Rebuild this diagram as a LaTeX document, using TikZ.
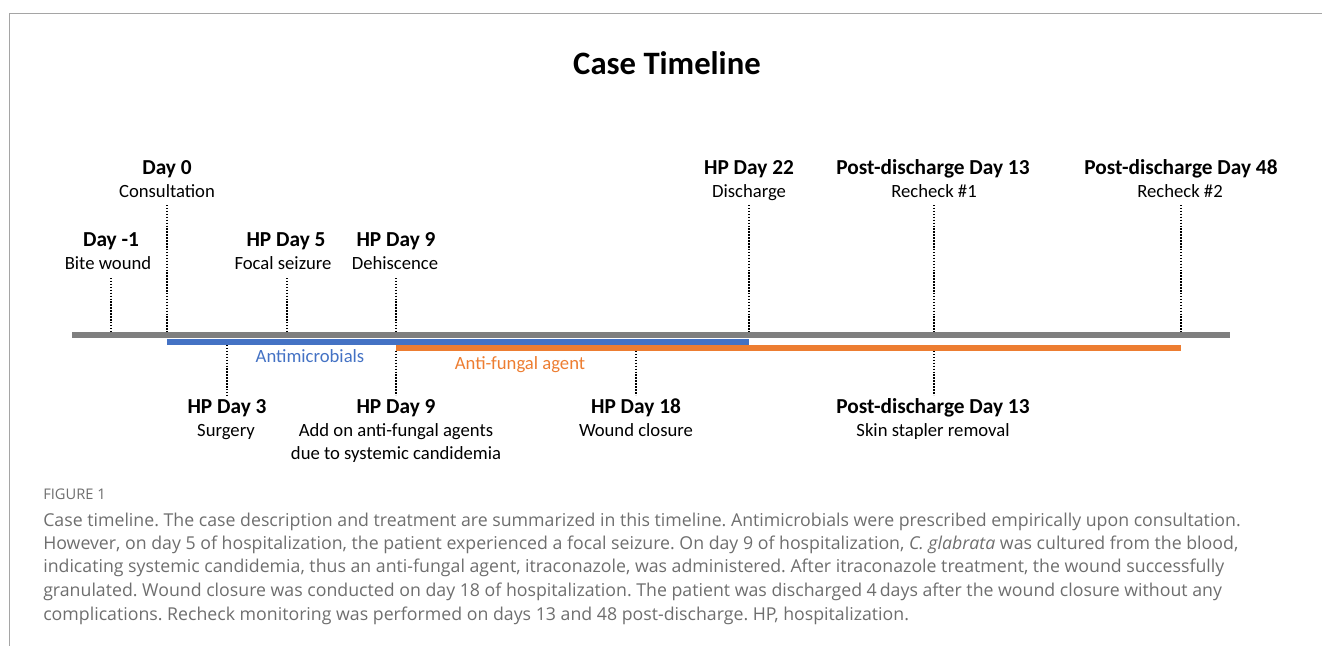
\documentclass[tikz,border=0pt]{standalone}
\usepackage{fontspec}
\setmainfont{Carlito}
\newfontfamily\capfont{Open Sans}
\definecolor{tlgray}{RGB}{127,127,127}
\definecolor{tlblue}{RGB}{68,114,196}
\definecolor{tlorange}{RGB}{237,125,49}
\definecolor{capgray}{RGB}{110,110,110}
\definecolor{framegray}{RGB}{165,165,165}
\frenchspacing
\begin{document}
\begin{tikzpicture}[x=0.75pt,y=-0.75pt,
  hd/.style={font=\fontsize{16}{18}\selectfont\bfseries, anchor=base, inner sep=0},
  sub/.style={font=\fontsize{14}{16}\selectfont, anchor=base, inner sep=0},
  tick/.style={line width=1.1pt, dash pattern=on 1.1pt off 1.1pt},
  bar/.style={line width=4.6pt},
  capline/.style={font=\capfont\fontsize{13.3}{15}\selectfont, text=capgray, anchor=base west, inner sep=0}]
\useasboundingbox (0,0) rectangle (1322,646);
% frame
\coordinate (frTR) at (1322,13.5);
\coordinate (frTL) at (9.5,13.5);
\coordinate (frBL) at (9.5,646);
\draw[framegray, line width=1.2pt] (frTR) -- (frTL) -- (frBL);
% title
\node[font=\fontsize{24.5}{28}\selectfont\bfseries, anchor=base, inner sep=0] (title) at (667,74) {Case Timeline};
% top events
\node[hd] (e0) at (167,174) {Day 0};
\node[sub] (e0s) at (167,197) {Consultation};
\coordinate (e0a) at (167,205); \coordinate (e0b) at (167,338);
\node[hd] (em1) at (111,246) {Day -1};
\node[sub] (em1s) at (108,269) {Bite wound};
\coordinate (em1a) at (111,278); \coordinate (em1b) at (111,333);
\node[hd] (e5) at (286,246) {HP Day 5};
\node[sub] (e5s) at (283,269) {Focal seizure};
\coordinate (e5a) at (287,278); \coordinate (e5b) at (287,333);
\node[hd] (e9) at (396,246) {HP Day 9};
\node[sub] (e9s) at (395,269) {Dehiscence};
\coordinate (e9a) at (396,278); \coordinate (e9b) at (396,333);
\node[hd] (e22) at (749,174) {HP Day 22};
\node[sub] (e22s) at (749,197) {Discharge};
\coordinate (e22a) at (749,205); \coordinate (e22b) at (749,333);
\node[hd] (p13) at (933,174) {Post-discharge Day 13};
\node[sub] (p13s) at (934,197) {Recheck \#1};
\coordinate (p13a) at (934,205); \coordinate (p13b) at (934,333);
\node[hd] (p48) at (1181,174) {Post-discharge Day 48};
\node[sub] (p48s) at (1180,197) {Recheck \#2};
\coordinate (p48a) at (1181,205); \coordinate (p48b) at (1181,333);
\foreach \e in {e0,em1,e5,e9,e22,p13,p48}{\draw[tick] (\e a) -- (\e b);}
% bars
\coordinate (tlL) at (72,335); \coordinate (tlR) at (1230,335);
\coordinate (abL) at (167,342); \coordinate (abR) at (749,342);
\coordinate (afL) at (396,348); \coordinate (afR) at (1181,348);
\draw[bar, tlgray] (tlL) -- (tlR);
\draw[bar, tlblue] (abL) -- (abR);
\draw[bar, tlorange] (afL) -- (afR);
\node[sub, text=tlblue] (abl) at (310,362) {Antimicrobials};
\node[sub, text=tlorange] (afl) at (520,369) {Anti-fungal agent};
% bottom events
\coordinate (b3a) at (227,345); \coordinate (b3b) at (227,395);
\node[hd] (b3) at (227,413) {HP Day 3};
\node[sub] (b3s) at (226,436) {Surgery};
\coordinate (b9a) at (396,351); \coordinate (b9b) at (396,395);
\node[hd] (b9) at (396,413) {HP Day 9};
\node[sub] (b9s) at (396,436) {Add on anti-fungal agents};
\node[sub] (b9t) at (396,459) {due to systemic candidemia};
\coordinate (b18a) at (636,351); \coordinate (b18b) at (636,395);
\node[hd] (b18) at (636,413) {HP Day 18};
\node[sub] (b18s) at (636,436) {Wound closure};
\coordinate (bp13a) at (934,351); \coordinate (bp13b) at (934,395);
\node[hd] (bp13) at (933,413) {Post-discharge Day 13};
\node[sub] (bp13s) at (933,436) {Skin stapler removal};
\foreach \e in {b3,b9,b18,bp13}{\draw[tick] (\e a) -- (\e b);}
% caption
\node[capline, font=\capfont\fontsize{11}{13}\selectfont] (fig) at (43,499) {FIGURE 1};
\node[capline] (c1) at (43,526) {Case timeline. The case description and treatment are summarized in this timeline. Antimicrobials were prescribed empirically upon consultation.};
\node[capline] (c2) at (43,549) {However, on day 5 of hospitalization, the patient experienced a focal seizure. On day 9 of hospitalization, \textit{C. glabrata} was cultured from the blood,};
\node[capline] (c3) at (43,572) {indicating systemic candidemia, thus an anti-fungal agent, itraconazole, was administered. After itraconazole treatment, the wound successfully};
\node[capline] (c4) at (43,596) {granulated. Wound closure was conducted on day 18 of hospitalization. The patient was discharged 4\,days after the wound closure without any};
\node[capline] (c5) at (43,620) {complications. Recheck monitoring was performed on days 13 and 48 post-discharge. HP, hospitalization.};
\end{tikzpicture}
\end{document}
